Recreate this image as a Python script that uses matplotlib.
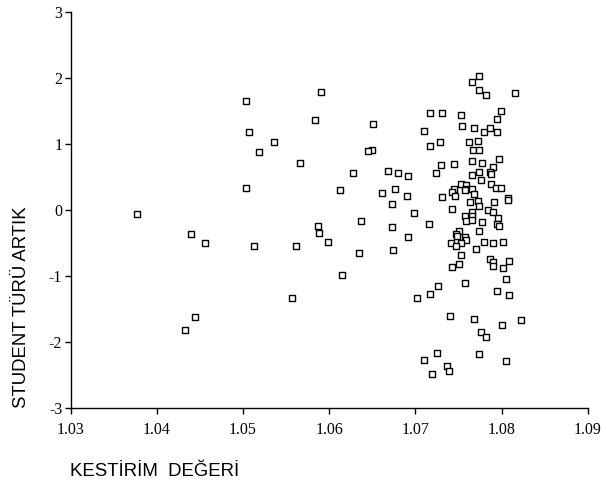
import matplotlib
matplotlib.use('Agg')
import matplotlib.pyplot as plt

# predicted values (x) and studentized residuals (y)
predicted = [
    1.0590, 1.0504, 1.0584, 1.0507, 1.0536, 1.0518, 1.0566, 1.0504, 1.0613, 1.0377,
    1.0587, 1.0588, 1.0599, 1.0440, 1.0456, 1.0513, 1.0561, 1.0615, 1.0557, 1.0444,
    1.0433,
    1.0651, 1.0710, 1.0717, 1.0717, 1.0650, 1.0645, 1.0627, 1.0668, 1.0680, 1.0691,
    1.0724, 1.0661, 1.0676, 1.0690, 1.0673, 1.0698, 1.0637, 1.0716, 1.0673, 1.0691,
    1.0635, 1.0674, 1.0726, 1.0717, 1.0702, 1.0725, 1.0710, 1.0719,
    1.0774, 1.0765, 1.0774, 1.0782, 1.0815, 1.0731, 1.0753, 1.0799, 1.0794, 1.0754,
    1.0768, 1.0780, 1.0786, 1.0794, 1.0728, 1.0762, 1.0773, 1.0767, 1.0774, 1.0730,
    1.0745, 1.0765, 1.0777, 1.0797, 1.0790, 1.0765, 1.0774, 1.0786, 1.0788, 1.0776,
    1.0788, 1.0753, 1.0759, 1.0759, 1.0765, 1.0745, 1.0742, 1.0746, 1.0757, 1.0768,
    1.0793, 1.0799, 1.0731, 1.0763, 1.0773, 1.0774, 1.0791, 1.0807, 1.0807, 1.0742,
    1.0784, 1.0790, 1.0766, 1.0757, 1.0765, 1.0796, 1.0759, 1.0765, 1.0777, 1.0794,
    1.0797, 1.0751, 1.0774, 1.0747, 1.0748, 1.0757, 1.0759, 1.0741, 1.0753, 1.0747,
    1.0780, 1.0790, 1.0802, 1.0770, 1.0753, 1.0786, 1.0790, 1.0808, 1.0742, 1.0751,
    1.0790, 1.0802, 1.0805, 1.0757, 1.0794, 1.0809, 1.0740, 1.0768, 1.0822, 1.0800,
    1.0776, 1.0782, 1.0774, 1.0805, 1.0737, 1.0739,
]
residual = [
    1.79, 1.65, 1.36, 1.18, 1.04, 0.88, 0.72, 0.34, 0.30, -0.06,
    -0.24, -0.34, -0.48, -0.36, -0.50, -0.54, -0.54, -0.98, -1.32, -1.61,
    -1.81,
    1.30, 1.20, 1.48, 0.98, 0.92, 0.90, 0.56, 0.60, 0.56, 0.52,
    0.56, 0.26, 0.32, 0.22, 0.10, -0.04, -0.16, -0.20, -0.26, -0.40,
    -0.64, -0.60, -1.14, -1.26, -1.32, -2.16, -2.26, -2.48,
    2.04, 1.94, 1.82, 1.75, 1.77, 1.48, 1.44, 1.50, 1.38, 1.27,
    1.24, 1.19, 1.24, 1.19, 1.03, 1.03, 1.05, 0.92, 0.92, 0.69,
    0.70, 0.75, 0.72, 0.77, 0.66, 0.54, 0.58, 0.58, 0.55, 0.46,
    0.40, 0.40, 0.38, 0.32, 0.32, 0.32, 0.28, 0.22, 0.30, 0.24,
    0.34, 0.34, 0.20, 0.13, 0.14, 0.07, 0.12, 0.18, 0.16, 0.02,
    0.00, -0.02, -0.02, -0.08, -0.08, -0.12, -0.16, -0.14, -0.18, -0.20,
    -0.24, -0.31, -0.32, -0.36, -0.39, -0.41, -0.45, -0.50, -0.49, -0.54,
    -0.48, -0.50, -0.48, -0.58, -0.68, -0.73, -0.78, -0.77, -0.86, -0.82,
    -0.84, -0.88, -1.04, -1.10, -1.22, -1.28, -1.60, -1.65, -1.66, -1.74,
    -1.84, -1.92, -2.17, -2.28, -2.36, -2.44,
]

x_ticks = [1.03, 1.04, 1.05, 1.06, 1.07, 1.08, 1.09]
y_ticks = [-3, -2, -1, 0, 1, 2, 3]

plt.rcParams['axes.unicode_minus'] = False

fig = plt.figure(figsize=(6.03, 4.84), dpi=100)
ax = fig.add_axes([0.117, 0.156, 0.858, 0.819])

ax.scatter(predicted, residual, marker='s', s=20, facecolors='white',
           edgecolors='black', linewidths=1.0, zorder=3)

ax.set_xlim(1.03, 1.09)
ax.set_ylim(-3, 3)
ax.set_xticks(x_ticks)
ax.set_xticklabels([f'{v:.2f}' for v in x_ticks])
ax.set_yticks(y_ticks)
ax.set_yticklabels([str(v) for v in y_ticks])

for side in ['top', 'right']:
    ax.spines[side].set_visible(False)
for side in ['left', 'bottom']:
    ax.spines[side].set_linewidth(1.0)
ax.tick_params(length=4, width=1.0, labelsize=11.5)
ax.tick_params(axis='x', pad=6)
ax.tick_params(axis='y', pad=2)
for lab in ax.get_xticklabels() + ax.get_yticklabels():
    lab.set_family('Liberation Serif')

fig.text(0.035, 0.366, 'STUDENT TÜRÜ ARTIK', rotation=90, ha='center', va='center',
         family='Liberation Sans', fontsize=13.4)
fig.text(0.116, 0.026, 'KESTİRİM  DEĞERİ', ha='left', va='center',
         family='Liberation Sans', fontsize=13.4)

fig.savefig('out.png', dpi=100)
